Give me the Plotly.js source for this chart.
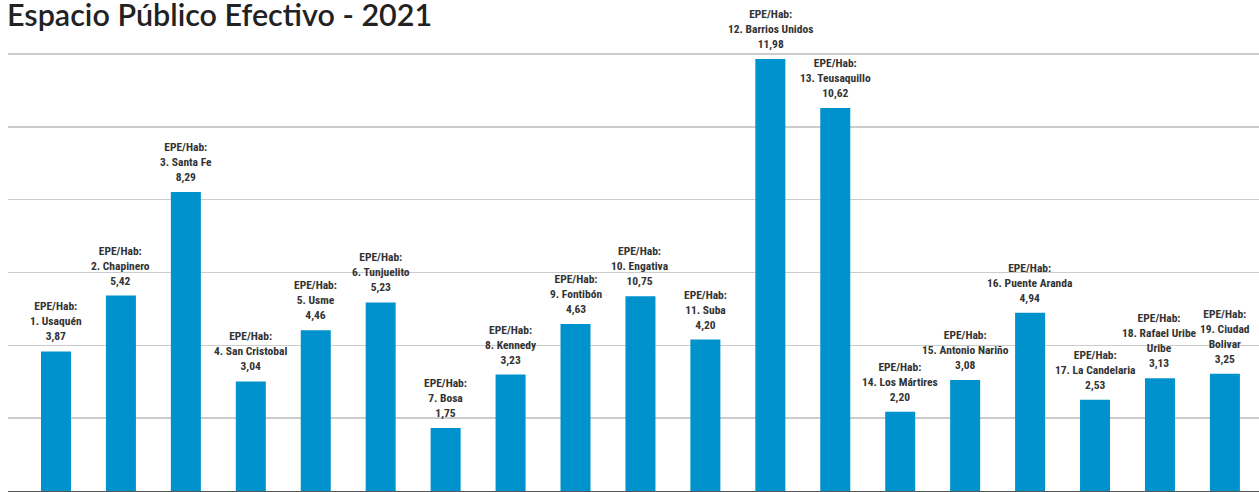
<!DOCTYPE html>
<html>
<head>
<meta charset="utf-8">
<script src="https://cdn.plot.ly/plotly-3.0.1.min.js"></script>
<style>html,body{margin:0;padding:0;background:#fff;}#chart{width:1259px;height:492px;}</style>
</head>
<body>
<div id="chart"></div>
<script>
const categories = ["1. Usaquén","2. Chapinero","3. Santa Fe","4. San Cristobal","5. Usme","6. Tunjuelito","7. Bosa","8. Kennedy","9. Fontibón","10. Engativa","11. Suba","12. Barrios Unidos","13. Teusaquillo","14. Los Mártires","15. Antonio Nariño","16. Puente Aranda","17. La Candelaria","18. Rafael Uribe Uribe","19. Ciudad Bolivar"];
const labelNames = ["1. Usaquén","2. Chapinero","3. Santa Fe","4. San Cristobal","5. Usme","6. Tunjuelito","7. Bosa","8. Kennedy","9. Fontibón","10. Engativa","11. Suba","12. Barrios Unidos","13. Teusaquillo","14. Los Mártires","15. Antonio Nariño","16. Puente Aranda","17. La Candelaria","18. Rafael Uribe<br>Uribe","19. Ciudad<br>Bolivar"];
const labelValues = ["3,87","5,42","8,29","3,04","4,46","5,23","1,75","3,23","4,63","10,75","4,20","11,98","10,62","2,20","3,08","4,94","2,53","3,13","3,25"];
// bar heights as drawn in the picture (Engativa bar is drawn at ~5.4 despite its 10,75 label)
const barHeights = [3.87,5.42,8.29,3.04,4.46,5.23,1.75,3.23,4.63,5.40,4.20,11.98,10.62,2.20,3.08,4.94,2.53,3.13,3.25];
const titleText = "Espacio Público Efectivo - 2021";
const labelPrefix = "EPE/Hab:";

const trace = {
  type: 'bar',
  x: categories,
  y: barHeights,
  marker: {color: '#0092CC'},
  hoverinfo: 'none'
};

const annotations = categories.map((c, i) => ({
  x: c, y: barHeights[i], xref: 'x', yref: 'y',
  text: labelPrefix + '<br>' + labelNames[i] + '<br>' + labelValues[i],
  showarrow: false, xanchor: 'center', yanchor: 'bottom', yshift: 6,
  font: {family: 'Roboto Condensed, sans-serif', size: 11.5, color: '#333333', weight: 'bold'}
}));

annotations.push({
  text: titleText, xref: 'paper', yref: 'paper', x: 0, y: 1,
  xanchor: 'left', yanchor: 'top', xshift: -2, yshift: 5, borderpad: 0,
  showarrow: false,
  font: {family: 'Lato, sans-serif', size: 30.5, color: '#222222', weight: 600}
});

const layout = {
  width: 1259, height: 492,
  margin: {l: 8, r: 0, t: 0, b: 1},
  paper_bgcolor: '#ffffff', plot_bgcolor: '#ffffff',
  bargap: 0.538,
  showlegend: false,
  xaxis: {
    type: 'category', range: [-0.739, 18.525],
    showticklabels: false, showgrid: false, zeroline: false,
    showline: true, linecolor: '#555555', linewidth: 2, ticks: ''
  },
  yaxis: {
    range: [0, 13.616], tick0: 0, dtick: 2.02,
    showticklabels: false, showgrid: true, gridcolor: '#cccccc', gridwidth: 1.6,
    zeroline: false, showline: false, ticks: ''
  },
  annotations: annotations
};

Plotly.newPlot('chart', [trace], layout, {staticPlot: true, displayModeBar: false});
</script>
</body>
</html>
